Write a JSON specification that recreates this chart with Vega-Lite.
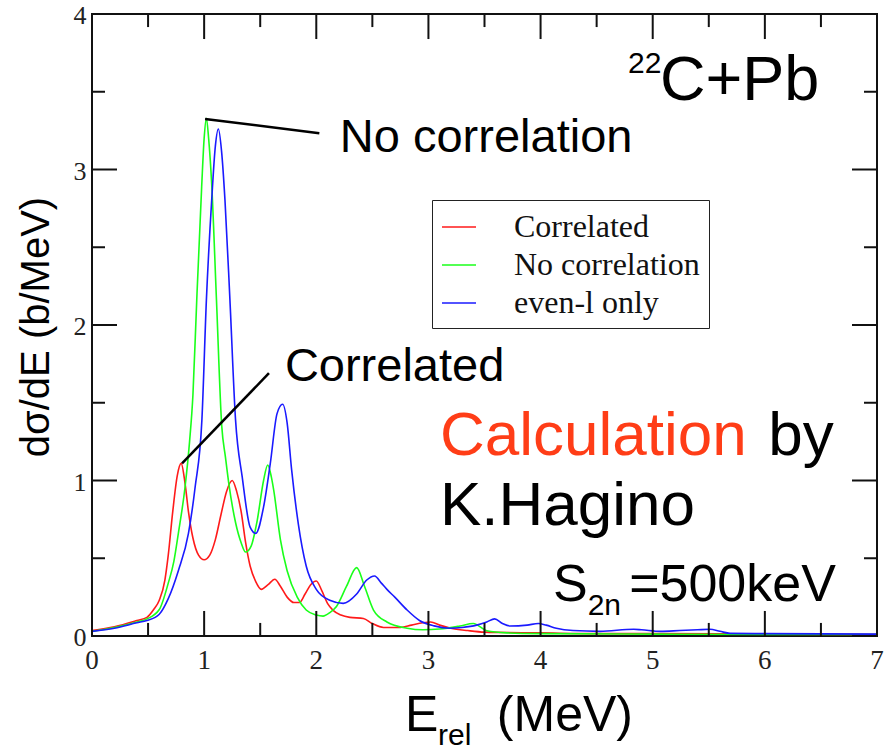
{
  "$schema": "https://vega.github.io/schema/vega-lite/v6.json",
  "width": 785,
  "height": 622,
  "autosize": {"type": "none"},
  "padding": {"left": 92, "top": 14, "right": 8, "bottom": 114},
  "background": "white",
  "config": {
    "view": {"stroke": "#111", "strokeWidth": 2}
  },
  "datasets": {
    "xmaj": [{"p":0},{"p":1},{"p":2},{"p":3},{"p":4},{"p":5},{"p":6},{"p":7}],
    "xmin": [{"p":0.5},{"p":1.5},{"p":2.5},{"p":3.5},{"p":4.5},{"p":5.5},{"p":6.5}],
    "ymaj": [{"p":0},{"p":1},{"p":2},{"p":3},{"p":4}],
    "ymin": [{"p":0.5},{"p":1.5},{"p":2.5},{"p":3.5}],
    "curves": [
      {"s":"Correlated","E":0.0,"v":0.035},{"s":"Correlated","E":0.2,"v":0.06},{"s":"Correlated","E":0.4,"v":0.10},{"s":"Correlated","E":0.49,"v":0.12},{"s":"Correlated","E":0.55,"v":0.17},{"s":"Correlated","E":0.6,"v":0.23},{"s":"Correlated","E":0.65,"v":0.36},{"s":"Correlated","E":0.68,"v":0.52},{"s":"Correlated","E":0.72,"v":0.80},{"s":"Correlated","E":0.76,"v":1.03},{"s":"Correlated","E":0.795,"v":1.11},{"s":"Correlated","E":0.83,"v":0.98},{"s":"Correlated","E":0.86,"v":0.80},{"s":"Correlated","E":0.9,"v":0.63},{"s":"Correlated","E":0.95,"v":0.52},{"s":"Correlated","E":1.0,"v":0.49},{"s":"Correlated","E":1.05,"v":0.52},{"s":"Correlated","E":1.1,"v":0.62},{"s":"Correlated","E":1.15,"v":0.78},{"s":"Correlated","E":1.2,"v":0.93},{"s":"Correlated","E":1.25,"v":1.0},{"s":"Correlated","E":1.29,"v":0.93},{"s":"Correlated","E":1.33,"v":0.80},{"s":"Correlated","E":1.37,"v":0.60},{"s":"Correlated","E":1.41,"v":0.45},{"s":"Correlated","E":1.46,"v":0.35},{"s":"Correlated","E":1.51,"v":0.30},{"s":"Correlated","E":1.57,"v":0.33},{"s":"Correlated","E":1.63,"v":0.365},{"s":"Correlated","E":1.68,"v":0.32},{"s":"Correlated","E":1.74,"v":0.25},{"s":"Correlated","E":1.8,"v":0.215},{"s":"Correlated","E":1.85,"v":0.215},{"s":"Correlated","E":1.9,"v":0.27},{"s":"Correlated","E":1.95,"v":0.33},{"s":"Correlated","E":2.0,"v":0.354},{"s":"Correlated","E":2.05,"v":0.29},{"s":"Correlated","E":2.1,"v":0.21},{"s":"Correlated","E":2.15,"v":0.165},{"s":"Correlated","E":2.22,"v":0.135},{"s":"Correlated","E":2.3,"v":0.12},{"s":"Correlated","E":2.42,"v":0.113},{"s":"Correlated","E":2.5,"v":0.08},{"s":"Correlated","E":2.6,"v":0.055},{"s":"Correlated","E":2.75,"v":0.055},{"s":"Correlated","E":2.85,"v":0.07},{"s":"Correlated","E":2.95,"v":0.085},{"s":"Correlated","E":3.02,"v":0.09},{"s":"Correlated","E":3.1,"v":0.07},{"s":"Correlated","E":3.2,"v":0.05},{"s":"Correlated","E":3.35,"v":0.035},{"s":"Correlated","E":3.5,"v":0.025},{"s":"Correlated","E":4.0,"v":0.02},{"s":"Correlated","E":4.5,"v":0.015},{"s":"Correlated","E":5.0,"v":0.015},{"s":"Correlated","E":6.0,"v":0.012},{"s":"Correlated","E":7.0,"v":0.01},
      {"s":"No correlation","E":0.0,"v":0.03},{"s":"No correlation","E":0.2,"v":0.055},{"s":"No correlation","E":0.4,"v":0.09},{"s":"No correlation","E":0.49,"v":0.11},{"s":"No correlation","E":0.6,"v":0.17},{"s":"No correlation","E":0.68,"v":0.34},{"s":"No correlation","E":0.73,"v":0.48},{"s":"No correlation","E":0.77,"v":0.66},{"s":"No correlation","E":0.83,"v":0.96},{"s":"No correlation","E":0.87,"v":1.25},{"s":"No correlation","E":0.9,"v":1.55},{"s":"No correlation","E":0.934,"v":2.16},{"s":"No correlation","E":0.978,"v":2.89},{"s":"No correlation","E":1.0,"v":3.2},{"s":"No correlation","E":1.02,"v":3.33},{"s":"No correlation","E":1.04,"v":3.2},{"s":"No correlation","E":1.067,"v":2.91},{"s":"No correlation","E":1.11,"v":2.16},{"s":"No correlation","E":1.157,"v":1.35},{"s":"No correlation","E":1.19,"v":1.15},{"s":"No correlation","E":1.22,"v":0.98},{"s":"No correlation","E":1.28,"v":0.73},{"s":"No correlation","E":1.33,"v":0.60},{"s":"No correlation","E":1.37,"v":0.54},{"s":"No correlation","E":1.42,"v":0.58},{"s":"No correlation","E":1.47,"v":0.73},{"s":"No correlation","E":1.53,"v":1.0},{"s":"No correlation","E":1.567,"v":1.10},{"s":"No correlation","E":1.6,"v":1.02},{"s":"No correlation","E":1.62,"v":0.94},{"s":"No correlation","E":1.68,"v":0.62},{"s":"No correlation","E":1.74,"v":0.42},{"s":"No correlation","E":1.83,"v":0.25},{"s":"No correlation","E":1.91,"v":0.167},{"s":"No correlation","E":2.0,"v":0.135},{"s":"No correlation","E":2.06,"v":0.128},{"s":"No correlation","E":2.12,"v":0.15},{"s":"No correlation","E":2.18,"v":0.19},{"s":"No correlation","E":2.27,"v":0.32},{"s":"No correlation","E":2.36,"v":0.44},{"s":"No correlation","E":2.43,"v":0.32},{"s":"No correlation","E":2.51,"v":0.167},{"s":"No correlation","E":2.63,"v":0.09},{"s":"No correlation","E":2.81,"v":0.05},{"s":"No correlation","E":2.95,"v":0.04},{"s":"No correlation","E":3.1,"v":0.045},{"s":"No correlation","E":3.28,"v":0.064},{"s":"No correlation","E":3.4,"v":0.08},{"s":"No correlation","E":3.52,"v":0.034},{"s":"No correlation","E":3.7,"v":0.02},{"s":"No correlation","E":4.0,"v":0.015},{"s":"No correlation","E":5.0,"v":0.012},{"s":"No correlation","E":6.0,"v":0.01},{"s":"No correlation","E":7.0,"v":0.01},
      {"s":"even-l only","E":0.0,"v":0.03},{"s":"even-l only","E":0.2,"v":0.05},{"s":"even-l only","E":0.4,"v":0.085},{"s":"even-l only","E":0.49,"v":0.10},{"s":"even-l only","E":0.6,"v":0.14},{"s":"even-l only","E":0.68,"v":0.24},{"s":"even-l only","E":0.77,"v":0.42},{"s":"even-l only","E":0.86,"v":0.66},{"s":"even-l only","E":0.92,"v":0.96},{"s":"even-l only","E":0.98,"v":1.39},{"s":"even-l only","E":1.02,"v":2.16},{"s":"even-l only","E":1.067,"v":2.80},{"s":"even-l only","E":1.1,"v":3.15},{"s":"even-l only","E":1.127,"v":3.26},{"s":"even-l only","E":1.155,"v":3.12},{"s":"even-l only","E":1.186,"v":2.80},{"s":"even-l only","E":1.23,"v":2.16},{"s":"even-l only","E":1.28,"v":1.39},{"s":"even-l only","E":1.34,"v":1.02},{"s":"even-l only","E":1.41,"v":0.70},{"s":"even-l only","E":1.46,"v":0.66},{"s":"even-l only","E":1.53,"v":0.83},{"s":"even-l only","E":1.59,"v":1.11},{"s":"even-l only","E":1.65,"v":1.43},{"s":"even-l only","E":1.70,"v":1.49},{"s":"even-l only","E":1.74,"v":1.37},{"s":"even-l only","E":1.78,"v":1.07},{"s":"even-l only","E":1.84,"v":0.72},{"s":"even-l only","E":1.91,"v":0.45},{"s":"even-l only","E":2.0,"v":0.30},{"s":"even-l only","E":2.12,"v":0.23},{"s":"even-l only","E":2.24,"v":0.21},{"s":"even-l only","E":2.36,"v":0.27},{"s":"even-l only","E":2.45,"v":0.36},{"s":"even-l only","E":2.52,"v":0.386},{"s":"even-l only","E":2.58,"v":0.34},{"s":"even-l only","E":2.63,"v":0.30},{"s":"even-l only","E":2.70,"v":0.25},{"s":"even-l only","E":2.81,"v":0.167},{"s":"even-l only","E":2.92,"v":0.10},{"s":"even-l only","E":3.05,"v":0.065},{"s":"even-l only","E":3.19,"v":0.05},{"s":"even-l only","E":3.3,"v":0.055},{"s":"even-l only","E":3.43,"v":0.07},{"s":"even-l only","E":3.52,"v":0.09},{"s":"even-l only","E":3.59,"v":0.11},{"s":"even-l only","E":3.66,"v":0.08},{"s":"even-l only","E":3.73,"v":0.064},{"s":"even-l only","E":3.88,"v":0.07},{"s":"even-l only","E":3.98,"v":0.08},{"s":"even-l only","E":4.05,"v":0.07},{"s":"even-l only","E":4.14,"v":0.05},{"s":"even-l only","E":4.29,"v":0.035},{"s":"even-l only","E":4.53,"v":0.03},{"s":"even-l only","E":4.83,"v":0.043},{"s":"even-l only","E":4.9,"v":0.04},{"s":"even-l only","E":5.07,"v":0.03},{"s":"even-l only","E":5.24,"v":0.035},{"s":"even-l only","E":5.4,"v":0.04},{"s":"even-l only","E":5.51,"v":0.043},{"s":"even-l only","E":5.6,"v":0.03},{"s":"even-l only","E":5.69,"v":0.017},{"s":"even-l only","E":6.0,"v":0.015},{"s":"even-l only","E":7.0,"v":0.012}
    ]
  },
  "layer": [
    {
      "data": {"name": "curves"},
      "mark": {"type": "line", "interpolate": "monotone", "strokeWidth": 1.6},
      "encoding": {
        "x": {"field": "E", "type": "quantitative", "scale": {"domain": [0, 7], "nice": false, "zero": false}, "axis": null},
        "y": {"field": "v", "type": "quantitative", "scale": {"domain": [0, 4], "nice": false, "zero": false}, "axis": null},
        "color": {"field": "s", "type": "nominal",
          "scale": {"domain": ["Correlated", "No correlation", "even-l only"], "range": ["#ff1a1a", "#1aff1a", "#1a1aff"]},
          "legend": {"orient": "none", "legendX": 340, "legendY": 186, "title": null, "strokeColor": "#222", "fillColor": "white", "padding": 9, "labelFont": "Liberation Serif", "labelFontSize": 32, "labelColor": "#111", "labelOffset": 37, "symbolType": "stroke", "symbolSize": 1156, "symbolStrokeWidth": 1.6, "rowPadding": 4, "labelLimit": 400}}
      }
    },
    {
      "data": {"name": "xmaj"},
      "mark": {"type": "rule", "color": "#111", "strokeWidth": 2},
      "encoding": {
        "x": {"field": "p", "type": "quantitative", "scale": {"domain": [0, 7], "nice": false, "zero": false}, "axis": null},
        "y": {"datum": 0, "type": "quantitative", "scale": {"domain": [0, 4], "nice": false, "zero": false}, "axis": null},
        "y2": {"datum": 0.161}
      }
    },
    {
      "data": {"name": "xmaj"},
      "mark": {"type": "rule", "color": "#111", "strokeWidth": 2},
      "encoding": {
        "x": {"field": "p", "type": "quantitative", "scale": {"domain": [0, 7], "nice": false, "zero": false}, "axis": null},
        "y": {"datum": 4, "type": "quantitative", "scale": {"domain": [0, 4], "nice": false, "zero": false}, "axis": null},
        "y2": {"datum": 3.839}
      }
    },
    {
      "data": {"name": "xmin"},
      "mark": {"type": "rule", "color": "#111", "strokeWidth": 2},
      "encoding": {
        "x": {"field": "p", "type": "quantitative", "scale": {"domain": [0, 7], "nice": false, "zero": false}, "axis": null},
        "y": {"datum": 0, "type": "quantitative", "scale": {"domain": [0, 4], "nice": false, "zero": false}, "axis": null},
        "y2": {"datum": 0.084}
      }
    },
    {
      "data": {"name": "xmin"},
      "mark": {"type": "rule", "color": "#111", "strokeWidth": 2},
      "encoding": {
        "x": {"field": "p", "type": "quantitative", "scale": {"domain": [0, 7], "nice": false, "zero": false}, "axis": null},
        "y": {"datum": 4, "type": "quantitative", "scale": {"domain": [0, 4], "nice": false, "zero": false}, "axis": null},
        "y2": {"datum": 3.916}
      }
    },
    {
      "data": {"name": "ymaj"},
      "mark": {"type": "rule", "color": "#111", "strokeWidth": 2},
      "encoding": {
        "y": {"field": "p", "type": "quantitative", "scale": {"domain": [0, 4], "nice": false, "zero": false}, "axis": null},
        "x": {"datum": 0, "type": "quantitative", "scale": {"domain": [0, 7], "nice": false, "zero": false}, "axis": null},
        "x2": {"datum": 0.223}
      }
    },
    {
      "data": {"name": "ymaj"},
      "mark": {"type": "rule", "color": "#111", "strokeWidth": 2},
      "encoding": {
        "y": {"field": "p", "type": "quantitative", "scale": {"domain": [0, 4], "nice": false, "zero": false}, "axis": null},
        "x": {"datum": 7, "type": "quantitative", "scale": {"domain": [0, 7], "nice": false, "zero": false}, "axis": null},
        "x2": {"datum": 6.777}
      }
    },
    {
      "data": {"name": "ymin"},
      "mark": {"type": "rule", "color": "#111", "strokeWidth": 2},
      "encoding": {
        "y": {"field": "p", "type": "quantitative", "scale": {"domain": [0, 4], "nice": false, "zero": false}, "axis": null},
        "x": {"datum": 0, "type": "quantitative", "scale": {"domain": [0, 7], "nice": false, "zero": false}, "axis": null},
        "x2": {"datum": 0.116}
      }
    },
    {
      "data": {"name": "ymin"},
      "mark": {"type": "rule", "color": "#111", "strokeWidth": 2},
      "encoding": {
        "y": {"field": "p", "type": "quantitative", "scale": {"domain": [0, 4], "nice": false, "zero": false}, "axis": null},
        "x": {"datum": 7, "type": "quantitative", "scale": {"domain": [0, 7], "nice": false, "zero": false}, "axis": null},
        "x2": {"datum": 6.884}
      }
    },
    {
      "data": {"name": "xmaj"},
      "mark": {"type": "text", "align": "center", "baseline": "middle", "font": "Liberation Serif", "fontSize": 27, "color": "#222"},
      "encoding": {
        "x": {"field": "p", "type": "quantitative", "scale": {"domain": [0, 7], "nice": false, "zero": false}, "axis": null},
        "y": {"datum": -0.16, "type": "quantitative", "scale": {"domain": [0, 4], "nice": false, "zero": false}, "axis": null},
        "text": {"field": "p", "type": "quantitative", "format": "d"}
      }
    },
    {
      "data": {"name": "ymaj"},
      "mark": {"type": "text", "align": "right", "baseline": "middle", "dy": 2, "font": "Liberation Serif", "fontSize": 26, "color": "#222"},
      "encoding": {
        "y": {"field": "p", "type": "quantitative", "scale": {"domain": [0, 4], "nice": false, "zero": false}, "axis": null},
        "x": {"datum": -0.05, "type": "quantitative", "scale": {"domain": [0, 7], "nice": false, "zero": false}, "axis": null},
        "text": {"field": "p", "type": "quantitative", "format": "d"}
      }
    },
    {
      "data": {"values": [{"t": "dσ/dE (b/MeV)", "x": -0.383, "y": 1.987}]},
      "mark": {"type": "text", "align": "center", "baseline": "alphabetic", "angle": 270, "font": "Liberation Sans", "fontSize": 40, "color": "#000"},
      "encoding": {
        "x": {"field": "x", "type": "quantitative", "scale": {"domain": [0, 7], "nice": false, "zero": false}, "axis": null},
        "y": {"field": "y", "type": "quantitative", "scale": {"domain": [0, 4], "nice": false, "zero": false}, "axis": null},
        "text": {"field": "t"}
      }
    },
    {
      "data": {"values": [
        {"id": "a", "x": 1.008, "y": 3.325}, {"id": "a", "x": 2.027, "y": 3.233},
        {"id": "b", "x": 0.803, "y": 1.11}, {"id": "b", "x": 1.578, "y": 1.69}
      ]},
      "mark": {"type": "line", "color": "#000", "strokeWidth": 2.5},
      "encoding": {
        "x": {"field": "x", "type": "quantitative", "scale": {"domain": [0, 7], "nice": false, "zero": false}, "axis": null},
        "y": {"field": "y", "type": "quantitative", "scale": {"domain": [0, 4], "nice": false, "zero": false}, "axis": null},
        "detail": {"field": "id"}
      }
    },
    {
      "data": {"values": [{"t": "22", "x": 4.78, "y": 3.62}, {"t": "2n", "x": 4.42, "y": 0.135}, {"t": "rel", "x": 3.085, "y": -0.70}]},
      "mark": {"type": "text", "align": "left", "baseline": "alphabetic", "font": "Liberation Sans", "fontSize": 30, "color": "#000"},
      "encoding": {
        "x": {"field": "x", "type": "quantitative", "scale": {"domain": [0, 7], "nice": false, "zero": false}, "axis": null},
        "y": {"field": "y", "type": "quantitative", "scale": {"domain": [0, 4], "nice": false, "zero": false}, "axis": null},
        "text": {"field": "t"}
      }
    },
    {
      "data": {"values": [{"t": "C+Pb", "x": 5.065, "y": 3.447}]},
      "mark": {"type": "text", "align": "left", "baseline": "alphabetic", "font": "Liberation Sans", "fontSize": 63, "color": "#000"},
      "encoding": {
        "x": {"field": "x", "type": "quantitative", "scale": {"domain": [0, 7], "nice": false, "zero": false}, "axis": null},
        "y": {"field": "y", "type": "quantitative", "scale": {"domain": [0, 4], "nice": false, "zero": false}, "axis": null},
        "text": {"field": "t"}
      }
    },
    {
      "data": {"values": [{"t": "No correlation", "x": 2.21, "y": 3.113}, {"t": "Correlated", "x": 1.72, "y": 1.64}]},
      "mark": {"type": "text", "align": "left", "baseline": "alphabetic", "font": "Liberation Sans", "fontSize": 47, "color": "#000"},
      "encoding": {
        "x": {"field": "x", "type": "quantitative", "scale": {"domain": [0, 7], "nice": false, "zero": false}, "axis": null},
        "y": {"field": "y", "type": "quantitative", "scale": {"domain": [0, 4], "nice": false, "zero": false}, "axis": null},
        "text": {"field": "t"}
      }
    },
    {
      "data": {"values": [{"t": "Calculation", "x": 3.103, "y": 1.164}]},
      "mark": {"type": "text", "align": "left", "baseline": "alphabetic", "font": "Liberation Sans", "fontSize": 62, "color": "#ff3d17"},
      "encoding": {
        "x": {"field": "x", "type": "quantitative", "scale": {"domain": [0, 7], "nice": false, "zero": false}, "axis": null},
        "y": {"field": "y", "type": "quantitative", "scale": {"domain": [0, 4], "nice": false, "zero": false}, "axis": null},
        "text": {"field": "t"}
      }
    },
    {
      "data": {"values": [{"t": "by", "x": 6.03, "y": 1.164}, {"t": "K.Hagino", "x": 3.103, "y": 0.714}]},
      "mark": {"type": "text", "align": "left", "baseline": "alphabetic", "font": "Liberation Sans", "fontSize": 62, "color": "#000"},
      "encoding": {
        "x": {"field": "x", "type": "quantitative", "scale": {"domain": [0, 7], "nice": false, "zero": false}, "axis": null},
        "y": {"field": "y", "type": "quantitative", "scale": {"domain": [0, 4], "nice": false, "zero": false}, "axis": null},
        "text": {"field": "t"}
      }
    },
    {
      "data": {"values": [{"t": "S", "x": 4.11, "y": 0.225}, {"t": "=500keV", "x": 4.79, "y": 0.225}]},
      "mark": {"type": "text", "align": "left", "baseline": "alphabetic", "font": "Liberation Sans", "fontSize": 52, "color": "#000"},
      "encoding": {
        "x": {"field": "x", "type": "quantitative", "scale": {"domain": [0, 7], "nice": false, "zero": false}, "axis": null},
        "y": {"field": "y", "type": "quantitative", "scale": {"domain": [0, 4], "nice": false, "zero": false}, "axis": null},
        "text": {"field": "t"}
      }
    },
    {
      "data": {"values": [{"t": "E", "x": 2.79, "y": -0.611}, {"t": "(MeV)", "x": 3.61, "y": -0.611}]},
      "mark": {"type": "text", "align": "left", "baseline": "alphabetic", "font": "Liberation Sans", "fontSize": 50, "color": "#000"},
      "encoding": {
        "x": {"field": "x", "type": "quantitative", "scale": {"domain": [0, 7], "nice": false, "zero": false}, "axis": null},
        "y": {"field": "y", "type": "quantitative", "scale": {"domain": [0, 4], "nice": false, "zero": false}, "axis": null},
        "text": {"field": "t"}
      }
    }
  ]
}
